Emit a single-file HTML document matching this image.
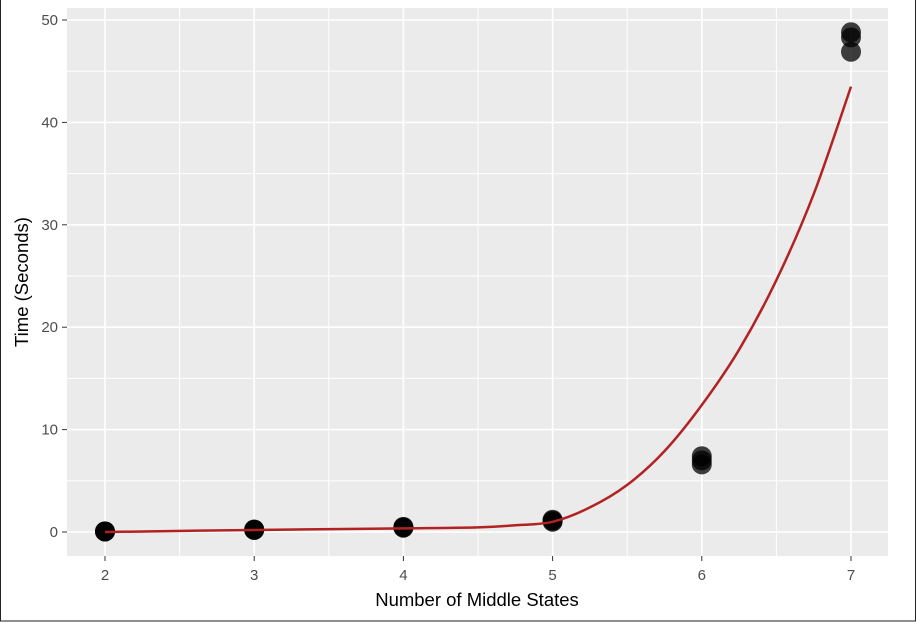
<!DOCTYPE html>
<html><head><meta charset="utf-8"><style>
body{margin:0;background:#fff;}
svg{display:block;font-family:"Liberation Sans",sans-serif;}
</style></head><body>
<svg id="chart" width="916" height="622">
<rect x="0.5" y="-1" width="915" height="622" fill="#fff" stroke="#222" stroke-width="1"/>
<rect x="67" y="8" width="821" height="548" fill="#ebebeb"/>
<g id="grid"></g><g id="marks"></g><g id="axes"></g>
<text x="477" y="606" font-size="18.5" text-anchor="middle" fill="#000">Number of Middle States</text>
<text transform="translate(28,282) rotate(-90)" font-size="18.5" text-anchor="middle" fill="#000">Time (Seconds)</text>
</svg>
<script>
const xTicks=[2,3,4,5,6,7];
const yTicks=[0,10,20,30,40,50];
const pointX=[2,2,2,3,3,3,4,4,4,5,5,5,6,6,6,7,7,7];
const pointY=[0.05,0.05,0.06,0.2,0.22,0.25,0.42,0.45,0.5,1.0,1.1,1.2,6.6,7.0,7.4,48.8,48.3,46.9];
const curveX=[2,3,4,4.5,4.75,5,5.25,5.5,5.75,6,6.25,6.5,6.75,7];
const curveY=[0,0.2,0.35,0.45,0.65,1.0,2.4,4.6,7.9,12.4,17.8,24.6,33.0,43.5];
const NS="http://www.w3.org/2000/svg";
const xs=v=>105+(v-2)*149.2;
const ys=v=>532-v*10.24;
function mk(t,a,p){const e=document.createElementNS(NS,t);for(const k in a)e.setAttribute(k,a[k]);p.appendChild(e);return e;}
const grid=document.getElementById('grid'),marks=document.getElementById('marks'),axes=document.getElementById('axes');
for(let i=0;i<yTicks.length;i++){
  const y=ys(yTicks[i]);
  if(i<yTicks.length-1){const m=mk('line',{x1:67,x2:888,y1:ys((yTicks[i]+yTicks[i+1])/2),y2:ys((yTicks[i]+yTicks[i+1])/2),stroke:'#fff','stroke-width':1},grid);
  }
  const g=mk('line',{x1:67,x2:888,y1:y,y2:y,stroke:'#fff','stroke-width':1.6},grid);
  
  const t=mk('line',{x1:62,x2:67,y1:y,y2:y,stroke:'#333','stroke-width':1},axes);
  
  const l=mk('text',{x:58,y:y+5,'font-size':15,'text-anchor':'end',fill:'#4d4d4d'},axes);l.textContent=yTicks[i];
  
}
for(let i=0;i<xTicks.length;i++){
  const x=xs(xTicks[i]);
  if(i<xTicks.length-1){const m=mk('line',{x1:xs(xTicks[i]+0.5),x2:xs(xTicks[i]+0.5),y1:8,y2:556,stroke:'#fff','stroke-width':1},grid);
  }
  const g=mk('line',{x1:x,x2:x,y1:8,y2:556,stroke:'#fff','stroke-width':1.6},grid);
  
  const t=mk('line',{x1:x,x2:x,y1:556,y2:561,stroke:'#333','stroke-width':1},axes);
  
  const l=mk('text',{x:x,y:580,'font-size':15,'text-anchor':'middle',fill:'#4d4d4d'},axes);l.textContent=xTicks[i];
  
}
for(let i=0;i<pointX.length;i++){
  const c=mk('circle',{cx:xs(pointX[i]),cy:ys(pointY[i]),r:10,fill:'#000','fill-opacity':0.75},marks);
  
}
const P=curveX.map((v,i)=>[xs(v),ys(curveY[i])]);
let d='M'+P[0][0].toFixed(1)+','+P[0][1].toFixed(1);
for(let i=0;i<P.length-1;i++){
  const p0=P[Math.max(i-1,0)],p1=P[i],p2=P[i+1],p3=P[Math.min(i+2,P.length-1)];
  const c1=[p1[0]+(p2[0]-p0[0])/6,p1[1]+(p2[1]-p0[1])/6];
  const c2=[p2[0]-(p3[0]-p1[0])/6,p2[1]-(p3[1]-p1[1])/6];
  d+=' C'+c1.map(v=>v.toFixed(1)).join(',')+' '+c2.map(v=>v.toFixed(1)).join(',')+' '+p2.map(v=>v.toFixed(1)).join(',');
}
const pl=mk('path',{d:d,fill:'none',stroke:'#b22222','stroke-width':2.5,'stroke-linejoin':'round'},marks);

</script>
</body></html>
